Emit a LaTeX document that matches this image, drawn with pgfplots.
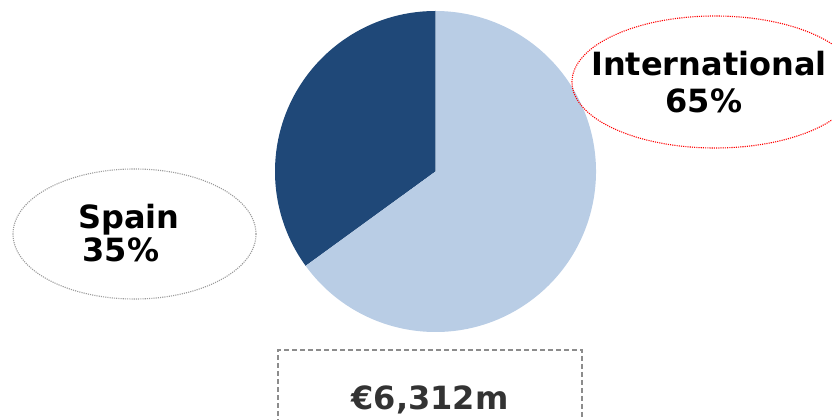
\documentclass[border=0pt]{standalone}
\usepackage{pgfplots}
\pgfplotsset{compat=1.18}
\usepackage{fontspec}
\setmainfont{DejaVu Sans}
\definecolor{spaincol}{HTML}{1F4878}
\definecolor{intlcol}{HTML}{B9CDE5}
\definecolor{boxgray}{HTML}{8C8C8C}
\definecolor{ellgray}{HTML}{9A9A9A}
\definecolor{txtgray}{HTML}{333333}
\pgfplotstableread{
label share
Spain 35
International 65
}\sharetable
\pgfplotstablegetelem{0}{share}\of\sharetable \let\spainshare\pgfplotsretval
\pgfplotstablegetelem{1}{share}\of\sharetable \let\intlshare\pgfplotsretval
\begin{document}
\begin{tikzpicture}
\clip (0,0) rectangle (832pt,420pt);
\begin{axis}[
  at={(0,0)}, anchor=south west,
  scale only axis, width=832pt, height=420pt,
  xmin=0, xmax=832, ymin=0, ymax=420,
  axis lines=none, clip=false,
]
\pgfmathsetmacro{\aend}{90+3.6*\spainshare}
% Spain slice
\fill[spaincol] (axis cs:435.5,248.5) -- ++(90:160.5pt) arc[start angle=90, end angle=\aend, radius=160.5pt] -- cycle;
% International slice
\fill[intlcol] (axis cs:435.5,248.5) -- ++(\aend:160.5pt) arc[start angle=\aend, end angle=450, radius=160.5pt] -- cycle;
% label ellipses
\draw[ellgray, line width=1.1pt, dash pattern=on 1.1pt off 1.1pt] (axis cs:134.5,186) ellipse[x radius=121.5pt, y radius=65pt];
\draw[red, line width=1.1pt, dash pattern=on 1.1pt off 1.1pt] (axis cs:715,338) ellipse[x radius=143pt, y radius=66pt];
% total box
\draw[boxgray, line width=1.2pt, dash pattern=on 5pt off 3pt] (axis cs:278,-20) -- (axis cs:278,70) -- (axis cs:582,70) -- (axis cs:582,-20);
% texts
\node[anchor=base, font=\fontsize{32}{38}\selectfont\bfseries] at (axis cs:709,344.3) {International};
\node[anchor=base, font=\fontsize{32}{38}\selectfont\bfseries] at (axis cs:704,307) {\intlshare\%};
\node[anchor=base, font=\fontsize{32}{38}\selectfont\bfseries] at (axis cs:129,191) {Spain};
\node[anchor=base, font=\fontsize{32}{38}\selectfont\bfseries] at (axis cs:121,158) {\spainshare\%};
\node[anchor=base, text=txtgray, font=\fontsize{32}{38}\selectfont\bfseries] at (axis cs:430,10) {€6,312m};
\end{axis}
\end{tikzpicture}
\end{document}
